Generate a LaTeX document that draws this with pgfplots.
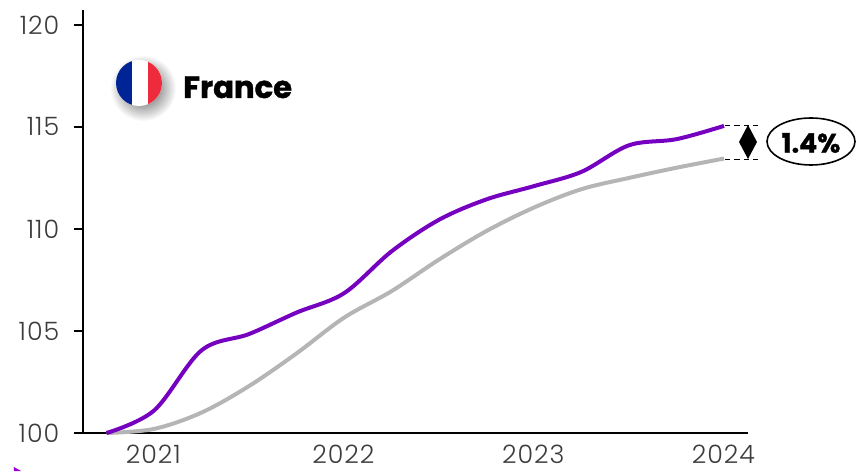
\documentclass[border=0pt]{standalone}
\usepackage{fontspec}
\setmainfont{Poppins Light}[LetterSpace=4]
\newfontfamily\heavy{Poppins}[UprightFont={* Bold},BoldFont={* Bold},FakeBold=1.2]
\usepackage{pgfplots}
\pgfplotsset{compat=1.18}
\usetikzlibrary{fadings,shapes.geometric}
\tikzfading[name=softc,inner color=transparent!0,outer color=transparent!100]
\definecolor{lpurple}{HTML}{7500C0}
\definecolor{lgray}{HTML}{B5B5B5}
\definecolor{tickgray}{HTML}{3C3C3C}
\definecolor{fblue}{HTML}{002395}
\definecolor{fred}{HTML}{EE2B3C}
\pgfplotstableread{
q val
0 100.00
1 101.10
2 104.05
3 104.85
4 105.90
5 106.85
6 108.90
7 110.45
8 111.45
9 112.10
10 112.80
11 114.10
12 114.40
13 115.05
}\france
\pgfplotstableread{
q val
0 100.00
1 100.20
2 101.00
3 102.30
4 103.90
5 105.65
6 106.95
7 108.50
8 109.90
9 111.05
10 111.95
11 112.50
12 113.00
13 113.45
}\peers
\begin{document}
\begin{tikzpicture}[x=0.75pt,y=0.75pt]
\useasboundingbox (-83,-38) rectangle (773,433);
\begin{axis}[
 at={(0,0)},anchor=south west,
 scale only axis,width=498.75pt,height=317.25pt,
 xmin=-0.495,xmax=13.505,ymin=100,ymax=120.73,
 axis lines=left,axis line style={-,line width=1.1pt,black},
 xtick={1,5,9,13},xticklabels={2021,2022,2023,2024},
 ytick={100,105,110,115,120},
 tick style={black,line width=1.1pt},
 major tick length=6.75pt,
 xtick style={draw=none},
 tick align=outside,
 tick label style={font=\fontsize{19}{22}\selectfont,text=tickgray},
 xticklabel style={yshift=-1pt,xshift=-0.5pt,inner sep=1pt,text depth=0pt},
 yticklabel style={xshift=-7.5pt},
 clip=false,
 /pgf/number format/assume math mode=true,
]
\addplot[lgray,line width=3pt,smooth,tension=0.55] table[x=q,y=val] {\peers};
\addplot[lpurple,line width=3pt,smooth,tension=0.55] table[x=q,y=val] {\france};
\end{axis}
% flag, cx=139 cy=83 in image px
\fill[black,opacity=0.75,path fading=softc] (60,345) circle (33);
\begin{scope}
\clip (56,350) circle (23);
\fill[white] (30,320) rectangle (80,380);
\fill[fblue] (30,320) rectangle (49,380);
\fill[fred] (65,320) rectangle (85,380);
\end{scope}
\node[anchor=base west,inner sep=0pt,font=\heavy\fontsize{23}{26}\selectfont] at (100,335) {France};
% gap marker
\draw[dash pattern=on 4pt off 3pt,line width=0.7pt] (642,308) -- (675,308);
\draw[dash pattern=on 4pt off 3pt,line width=0.7pt] (642,274) -- (675,274);
\fill[black] (665,308) -- (674,291) -- (665,274) -- (656,291) -- cycle;
\draw[line width=1.2pt,fill=white] (728,291.5) ellipse (44 and 23.5);
\node[inner sep=0pt,font=\heavy\fontsize{20}{22}\selectfont] at (728,290) {1.4\%};
\fill[lpurple!70!magenta] (-69,-38) -- (-69,-34) -- (-62,-38) -- cycle;
\end{tikzpicture}
\end{document}
